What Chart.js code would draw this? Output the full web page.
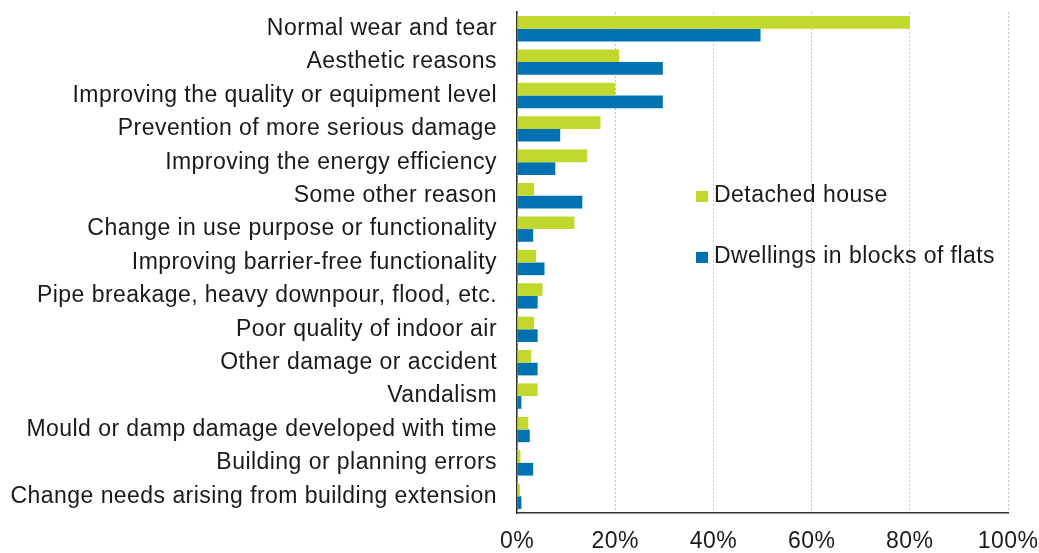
<!doctype html>
<html lang="en">
  <head>
    <meta charset="UTF-8" />
    <title>Reasons for renovation</title>
    <script src="https://cdn.jsdelivr.net/npm/chart.js"></script>
    <style>
      body { margin: 0; background: white; }
      #wrap { position: relative; width: 1039px; height: 553px; }
      .leg { position: absolute; font: 23px "Liberation Sans", Arial, sans-serif; letter-spacing: 0.45px; color: #1a1a1a; white-space: nowrap; }
      .leg span { display: inline-block; width: 12px; height: 11px; margin-right: 6px; }
    </style>
  </head>
  <body>
    <div id="wrap">
      <canvas id="reasonsChart" width="1039" height="553"></canvas>
      <div class="leg" style="left: 696px; top: 181px"><span style="background: #c2d82f"></span>Detached house</div>
      <div class="leg" style="left: 696px; top: 242px"><span style="background: #0072b1"></span>Dwellings in blocks of flats</div>
    </div>

    <script>
      const categories = [
        "Normal wear and tear",
        "Aesthetic reasons",
        "Improving the quality or equipment level",
        "Prevention of more serious damage",
        "Improving the energy efficiency",
        "Some other reason",
        "Change in use purpose or functionality",
        "Improving barrier-free functionality",
        "Pipe breakage, heavy downpour, flood, etc.",
        "Poor quality of indoor air",
        "Other damage or accident",
        "Vandalism",
        "Mould or damp damage developed with time",
        "Building or planning errors",
        "Change needs arising from building extension",
      ];
      const detachedHouse = [80, 20.8, 20, 17, 14.3, 3.5, 11.7, 3.9, 5.2, 3.5, 2.9, 4.2, 2.3, 0.7, 0.6];
      const blocksOfFlats = [49.6, 29.7, 29.7, 8.8, 7.8, 13.3, 3.3, 5.6, 4.2, 4.2, 4.2, 0.9, 2.6, 3.3, 0.9];
      const xTicks = [0, 20, 40, 60, 80, 100];

      const font = { family: "'Liberation Sans', Arial, sans-serif", size: 23 };

      // canvas text is a bit wider in the original
      const spacing = {
        id: "spacing",
        beforeDraw: (chart) => {
          chart.ctx.letterSpacing = "0.45px";
        },
      };

      const ctx = document.getElementById("reasonsChart").getContext("2d");
      new Chart(ctx, {
        type: "bar",
        data: {
          labels: categories,
          datasets: [
            {
              label: "Detached house",
              data: detachedHouse,
              backgroundColor: "#c2d82f",
              barPercentage: 1,
              categoryPercentage: 0.76,
            },
            {
              label: "Dwellings in blocks of flats",
              data: blocksOfFlats,
              backgroundColor: "#0072b1",
              barPercentage: 1,
              categoryPercentage: 0.76,
            },
          ],
        },
        plugins: [spacing],
        options: {
          indexAxis: "y",
          responsive: false,
          animation: false,
          layout: { padding: { top: 12, right: 31, left: 0, bottom: 0 } },
          plugins: { legend: { display: false }, tooltip: { enabled: false } },
          scales: {
            x: {
              min: 0,
              max: 100,
              afterBuildTicks: (scale) => {
                scale.ticks = xTicks.map((v) => ({ value: v }));
              },
              afterFit: (scale) => {
                scale.height = 40;
                scale.paddingLeft = 0;
                scale.paddingRight = 0;
              },
              ticks: {
                color: "#1a1a1a",
                font: font,
                padding: 15,
                callback: (v) => v + "%",
              },
              grid: { color: "#c4c4c4", drawTicks: false },
              border: { color: "#333", width: 1.5, dash: [2, 2] },
            },
            y: {
              afterFit: (scale) => {
                scale.width = 517;
                scale.paddingTop = 0;
                scale.paddingBottom = 0;
              },
              ticks: { color: "#1a1a1a", font: font, padding: 20, autoSkip: false },
              grid: { color: "transparent", drawTicks: false },
              border: { color: "#333", width: 1.5 },
            },
          },
        },
      });
    </script>
  </body>
</html>
